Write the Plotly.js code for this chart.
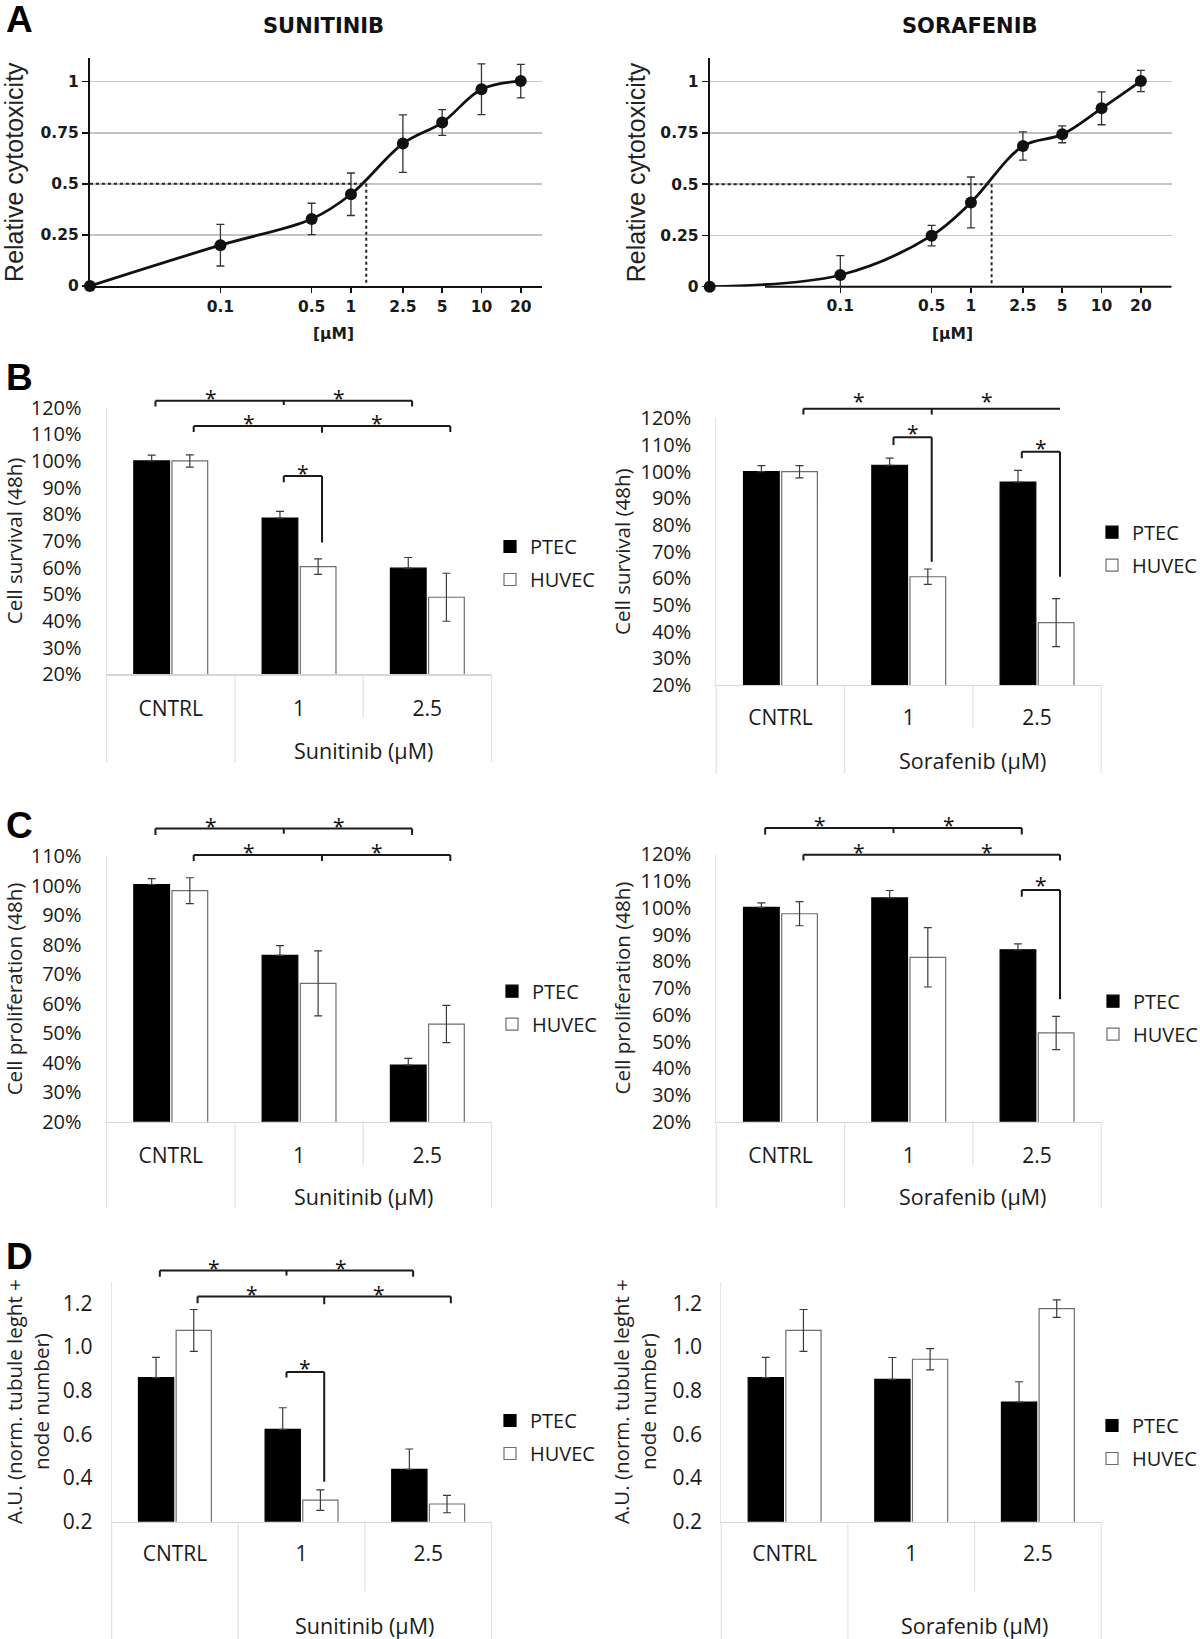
<!DOCTYPE html>
<html>
<head>
<meta charset="utf-8">
<script src="https://cdn.plot.ly/plotly-3.0.1.min.js"></script>
<style>html,body{margin:0;padding:0;background:#fff}#chart{width:1200px;height:1639px}</style>
</head>
<body>
<div id="chart"></div>
<script>
// ================= DATA =================
// Panel A: relative cytotoxicity vs concentration (µM); 0 µM is drawn at the axis origin
const concentrations = [0, 0.1, 0.5, 1, 2.5, 5, 10, 20];
const concTickLabels = ['0.1', '0.5', '1', '2.5', '5', '10', '20'];
const sunitinibCytotox    = [0, 0.200, 0.328, 0.449, 0.697, 0.800, 0.963, 1.003];
const sunitinibCytotoxErr = [0, 0.102, 0.077, 0.104, 0.141, 0.063, 0.124, 0.082];
const sorafenibCytotox    = [0, 0.057, 0.249, 0.411, 0.686, 0.743, 0.870, 1.003];
const sorafenibCytotoxErr = [0, 0.095, 0.050, 0.124, 0.069, 0.041, 0.080, 0.052];
const ic50Sunitinib = 1.31;
const ic50Sorafenib = 1.44;

// Panels B-D: groups
const groups = ['CNTRL', '1', '2.5'];
const seriesNames = ['PTEC', 'HUVEC'];

// B: cell survival (48h), %
const survSunPTEC  = [100, 78.6, 59.8];  const survSunPTECErr  = [2.2, 2.5, 4.0];
const survSunHUVEC = [100, 60.4, 48.9];  const survSunHUVECErr = [2.3, 2.9, 9.0];
const survSorPTEC  = [100, 102.4, 96.1]; const survSorPTECErr  = [2.3, 2.7, 4.4];
const survSorHUVEC = [100, 60.6, 43.4];  const survSorHUVECErr = [2.3, 2.9, 9.0];

// C: cell proliferation (48h), %
const prolSunPTEC  = [100.4, 76.4, 39.2]; const prolSunPTECErr  = [2.0, 3.3, 2.3];
const prolSunHUVEC = [98.3, 66.9, 53.1];  const prolSunHUVECErr = [4.4, 11.0, 6.3];
const prolSorPTEC  = [100.2, 103.7, 84.3]; const prolSorPTECErr  = [1.7, 2.8, 2.2];
const prolSorHUVEC = [97.8, 81.5, 53.2];  const prolSorHUVECErr = [4.5, 11.1, 6.2];

// D: tubule formation, A.U.
const tubeSunPTEC  = [0.860, 0.623, 0.440]; const tubeSunPTECErr  = [0.093, 0.099, 0.093];
const tubeSunHUVEC = [1.076, 0.299, 0.281]; const tubeSunHUVECErr = [0.096, 0.047, 0.040];
const tubeSorPTEC  = [0.860, 0.852, 0.748]; const tubeSorPTECErr  = [0.093, 0.100, 0.093];
const tubeSorHUVEC = [1.076, 0.944, 1.176]; const tubeSorHUVECErr = [0.096, 0.049, 0.040];

// Significance brackets: anchors [groupIndex, seriesIndex], bracket level, leg ends, star level (data units)
const sigSurvSun = [
  {pts: [[0,0],[1,0],[2,0]], y: 122.6, ends: [120.4, 120.4], mid: 121.0, starY: 125.6},
  {pts: [[0,1],[1,1],[2,1]], y: 113.1, ends: [110.9, 110.9], mid: 110.6, starY: 116.0},
  {pts: [[1,0],[1,1]], y: 94.4, ends: [92.0, 69.4], starY: 97.3}
];
const sigSurvSor = [
  {pts: [[0,1],[1,1],[2,1]], y: 123.6, ends: [121.4, 123.6], mid: 121.4, starY: 128.2},
  {pts: [[1,0],[1,1]], y: 112.9, ends: [110.0, 66.2], starY: 116.2},
  {pts: [[2,0],[2,1]], y: 107.5, ends: [105.0, 60.6], starY: 110.9}
];
const sigProlSun = [
  {pts: [[0,0],[1,0],[2,0]], y: 119.4, ends: [117.2, 117.2], mid: 117.6, starY: 122.0},
  {pts: [[0,1],[1,1],[2,1]], y: 110.4, ends: [108.4, 108.4], mid: 108.4, starY: 113.2}
];
const sigProlSor = [
  {pts: [[0,0],[1,0],[2,0]], y: 129.9, ends: [127.4, 127.4], mid: 128.0, starY: 132.8},
  {pts: [[0,1],[1,1],[2,1]], y: 119.9, ends: [117.7, 117.7], starY: 122.9},
  {pts: [[2,0],[2,1]], y: 106.7, ends: [104.2, 65.8], starY: 110.4}
];
const sigTubeSun = [
  {pts: [[0,0],[1,0],[2,0]], y: 1.351, ends: [1.322, 1.322], mid: 1.328, starY: 1.386},
  {pts: [[0,1],[1,1],[2,1]], y: 1.231, ends: [1.200, 1.200], mid: 1.196, starY: 1.266},
  {pts: [[1,0],[1,1]], y: 0.886, ends: [0.860, 0.383], starY: 0.928}
];
const sigTubeSor = [];

// ================= LAYOUT HELPERS =================
const W = 1200, H = 1639;
const px = x => x / W;
const py = y => 1 - y / H;
const zeroPos = 0.01; // log-axis origin where the 0 µM point sits

const FONT_XL = 'Open Sans, sans-serif';
const FONT_A  = 'DejaVu Sans, sans-serif';
const TXT = '#1a1a1a';

const data = [];
const shapes = [];
const annotations = [];
const layout = {
  width: W, height: H,
  margin: {l: 0, r: 0, t: 0, b: 0, autoexpand: false},
  paper_bgcolor: '#fff', plot_bgcolor: 'rgba(0,0,0,0)',
  showlegend: true,
  barmode: 'group', bargap: 0.405, bargroupgap: 0.065,
  font: {family: FONT_XL, color: TXT},
  shapes, annotations
};

// ---------- Panel A (dose-response curves) ----------
const panelsA = [
  {ax: '', title: 'SUNITINIB', y: sunitinibCytotox, err: sunitinibCytotoxErr, ic50: ic50Sunitinib,
   xl: 89.9, xr: 541.9, yb: 286, yt: 58.3, logMax: 1.463, yMax: 1.1145, titleX: 323.6, unitX: 333.3,
   standoff: 15, axisStart: null},
  {ax: '2', title: 'SORAFENIB', y: sorafenibCytotox, err: sorafenibCytotoxErr, ic50: ic50Sorafenib,
   xl: 709.7, xr: 1171.7, yb: 286.7, yt: 58.3, logMax: 1.537, yMax: 1.114, titleX: 970.2, unitX: 952.7,
   standoff: 8, axisStart: 0.0265}
];
panelsA.forEach(p => {
  const xa = 'x' + p.ax, ya = 'y' + p.ax;
  const xs = concentrations.map(c => c === 0 ? zeroPos : c);
  data.push({
    type: 'scatter', mode: 'lines+markers', x: xs, y: p.y, xaxis: xa, yaxis: ya,
    showlegend: false, cliponaxis: false, hoverinfo: 'x+y',
    line: {color: '#111', width: 2.8, shape: 'spline', smoothing: 1},
    marker: {color: '#111', size: 12},
    error_y: {type: 'data', symmetric: false, array: p.err,
              arrayminus: p.err.map((e, i) => Math.min(e, p.y[i])),
              color: '#333', thickness: 1.3, width: 4}
  });
  // IC50 guide lines
  data.push({type: 'scatter', mode: 'lines', x: [zeroPos, p.ic50], y: [0.5, 0.5], xaxis: xa, yaxis: ya,
    showlegend: false, hoverinfo: 'skip', line: {color: '#222', width: 2, dash: 'dot'}});
  data.push({type: 'scatter', mode: 'lines', x: [p.ic50, p.ic50], y: [0.5, 0.01], xaxis: xa, yaxis: ya,
    showlegend: false, hoverinfo: 'skip', line: {color: '#222', width: 2, dash: 'dot'}});

  layout['xaxis' + p.ax] = {
    type: 'log', domain: [px(p.xl), px(p.xr)], anchor: ya,
    range: [Math.log10(zeroPos), p.logMax],
    tickvals: concentrations.slice(1), ticktext: concTickLabels,
    ticks: 'outside', ticklen: 5, tickwidth: 1.5, tickcolor: '#111',
    showline: p.axisStart === null, linecolor: '#111', linewidth: 2,
    showgrid: false, zeroline: false,
    tickfont: {family: FONT_A, size: 15.5, weight: 'bold', color: TXT}
  };
  layout['yaxis' + p.ax] = {
    domain: [py(p.yb), py(p.yt)], anchor: xa, range: [0, p.yMax],
    tickvals: [0, 0.25, 0.5, 0.75, 1], ticktext: ['0', '0.25', '0.5', '0.75', '1'],
    ticks: 'outside', ticklen: 6, tickwidth: 1.5, tickcolor: '#111',
    showline: true, linecolor: '#111', linewidth: 2,
    showgrid: true, gridcolor: '#c4c4c4', gridwidth: 1.5, zeroline: false,
    tickfont: {family: FONT_A, size: 15.5, weight: 'bold', color: TXT},
    title: {text: 'Relative cytotoxicity', standoff: p.standoff,
            font: {family: 'Liberation Sans, Arial, sans-serif', size: 25, color: '#222'}}
  };
  if (p.axisStart !== null) {
    shapes.push({type: 'line', xref: xa, yref: ya + ' domain', x0: p.axisStart, x1: Math.pow(10, p.logMax),
      y0: 0, y1: 0, line: {color: '#111', width: 2}});
  }
  annotations.push({xref: 'paper', yref: 'paper', x: px(p.titleX), y: py(25.8), text: p.title,
    showarrow: false, xanchor: 'center', yanchor: 'middle',
    font: {family: FONT_A, size: 21, weight: 'bold', color: '#111'}});
  annotations.push({xref: 'paper', yref: 'paper', x: px(p.unitX), y: py(334), text: '[µM]',
    showarrow: false, xanchor: 'center', yanchor: 'middle',
    font: {family: FONT_A, size: 15.5, weight: 'bold', color: TXT}});
});

// ---------- Panels B-D (grouped bars) ----------
const seriesOffset = [-0.149, 0.149];
const bracketNudge = 0.03;
const bx = (c, s) => c + seriesOffset[s] + bracketNudge;

const panelsBar = [
  {n: 3, legend: 'legend',  drug: 'Sunitinib (µM)', ytitle: 'Cell survival (48h)',
   series: [[survSunPTEC, survSunPTECErr], [survSunHUVEC, survSunHUVECErr]], sig: sigSurvSun,
   xl: 106.6, xr: 491.5, yb: 674.3, range: [20, 120], ppu: 2.6667, dtick: 10, pct: true,
   sepBottom: 762, midSepBottom: 718, drugY: 750, legX: 490, legY: 546, ytl: 20, xtl: 15, tickSize: 20, standoff: 4},
  {n: 4, legend: 'legend2', drug: 'Sorafenib (µM)', ytitle: 'Cell survival (48h)',
   series: [[survSorPTEC, survSorPTECErr], [survSorHUVEC, survSorHUVECErr]], sig: sigSurvSor,
   xl: 716.3, xr: 1101.2, yb: 685, range: [20, 120], ppu: 2.6667, dtick: 10, pct: true,
   sepBottom: 773, midSepBottom: 728, drugY: 760.7, legX: 1092, legY: 531.7, ytl: 20, xtl: 14, tickSize: 20, standoff: 4},
  {n: 5, legend: 'legend3', drug: 'Sunitinib (µM)', ytitle: 'Cell proliferation (48h)',
   series: [[prolSunPTEC, prolSunPTECErr], [prolSunHUVEC, prolSunHUVECErr]], sig: sigProlSun,
   xl: 106.6, xr: 491.5, yb: 1121.7, range: [20, 110], ppu: 2.95, dtick: 10, pct: true,
   sepBottom: 1208, midSepBottom: 1165, drugY: 1196.7, legX: 492, legY: 990.7, ytl: 20, xtl: 15, tickSize: 20, standoff: 4},
  {n: 6, legend: 'legend4', drug: 'Sorafenib (µM)', ytitle: 'Cell proliferation (48h)',
   series: [[prolSorPTEC, prolSorPTECErr], [prolSorHUVEC, prolSorHUVECErr]], sig: sigProlSor,
   xl: 716.3, xr: 1101.2, yb: 1121.7, range: [20, 120], ppu: 2.673, dtick: 10, pct: true,
   sepBottom: 1208, midSepBottom: 1165, drugY: 1196.7, legX: 1093, legY: 1000.7, ytl: 20, xtl: 15, tickSize: 20, standoff: 4},
  {n: 7, legend: 'legend5', drug: 'Sunitinib (µM)', ytitle: 'A.U. (norm. tubule leght +<br>node number)',
   series: [[tubeSunPTEC, tubeSunPTECErr], [tubeSunHUVEC, tubeSunHUVECErr]], sig: sigTubeSun,
   xl: 111.6, xr: 491.5, yb: 1521.7, range: [0.2, 1.3], ppu: 218.33, dtick: 0.2, pct: false,
   sepBottom: 1639, midSepBottom: 1591.7, drugY: 1625, legX: 490, legY: 1420, ytl: 14, xtl: 13, tickSize: 21, standoff: 10},
  {n: 8, legend: 'legend6', drug: 'Sorafenib (µM)', ytitle: 'A.U. (norm. tubule leght +<br>node number)',
   series: [[tubeSorPTEC, tubeSorPTECErr], [tubeSorHUVEC, tubeSorHUVECErr]], sig: sigTubeSor,
   xl: 721.3, xr: 1101.2, yb: 1521.7, range: [0.2, 1.3], ppu: 218.33, dtick: 0.2, pct: false,
   sepBottom: 1639, midSepBottom: 1591.7, drugY: 1625, legX: 1092, legY: 1425, ytl: 14, xtl: 13, tickSize: 21, standoff: 10}
];

const seriesStyle = [
  {fill: '#000000', line: '#000000'},
  {fill: '#ffffff', line: '#6e6e6e'}
];

panelsBar.forEach(p => {
  const xa = 'x' + p.n, ya = 'y' + p.n;
  const yt = p.yb - (p.range[1] - p.range[0]) * p.ppu;
  p.series.forEach(([vals, errs], s) => {
    data.push({
      type: 'bar', name: seriesNames[s], legend: p.legend, legendgroup: p.legend + seriesNames[s],
      x: groups.map((g, i) => i), y: vals, xaxis: xa, yaxis: ya,
      marker: {color: seriesStyle[s].fill, line: {color: seriesStyle[s].line, width: 1.2}},
      error_y: s === 0
        ? {type: 'data', symmetric: false, array: errs, arrayminus: errs.map(() => 0), color: '#3a3a3a', thickness: 1.2, width: 4}
        : {type: 'data', array: errs, color: '#3a3a3a', thickness: 1.2, width: 4},
      hovertemplate: seriesNames[s] + ' %{y}<extra></extra>'
    });
  });
  layout['xaxis' + p.n] = {
    domain: [px(p.xl), px(p.xr)], anchor: ya, range: [-0.5, 2.5],
    tickvals: groups.map((g, i) => i), ticktext: groups,
    ticks: 'outside', ticklen: p.xtl, tickcolor: 'rgba(0,0,0,0)',
    showline: true, linecolor: '#d6d6d6', linewidth: 1.2,
    showgrid: false, zeroline: false,
    tickfont: {family: FONT_XL, size: 21, color: TXT}
  };
  layout['yaxis' + p.n] = {
    domain: [py(p.yb), py(yt)], anchor: xa, range: p.range,
    tick0: p.range[0], dtick: p.dtick,
    ticksuffix: p.pct ? '%' : '', tickformat: p.pct ? 'd' : '.1f',
    ticks: 'outside', ticklen: p.ytl, tickcolor: 'rgba(0,0,0,0)',
    showline: true, linecolor: '#e4e4e4', linewidth: 1,
    showgrid: false, zeroline: false,
    tickfont: {family: FONT_XL, size: p.tickSize, color: TXT},
    title: {text: p.ytitle, standoff: p.standoff, font: {family: FONT_XL, size: 20.5, color: '#222'}}
  };
  layout[p.legend] = {
    x: px(p.legX), y: py(p.legY - 19), xanchor: 'left', yanchor: 'top',
    bgcolor: 'rgba(0,0,0,0)', borderwidth: 0, tracegroupgap: 4,
    font: {family: FONT_XL, size: 20, color: TXT}
  };
  // category-table separators below the axis
  const sepLine = {color: '#e2e2e2', width: 1.2};
  shapes.push({type: 'line', xref: xa + ' domain', yref: 'paper', x0: 0, x1: 0, y0: py(p.yb), y1: py(p.sepBottom), line: sepLine});
  shapes.push({type: 'line', xref: xa + ' domain', yref: 'paper', x0: 1, x1: 1, y0: py(p.yb), y1: py(p.sepBottom), line: sepLine});
  shapes.push({type: 'line', xref: xa, yref: 'paper', x0: 0.5, x1: 0.5, y0: py(p.yb), y1: py(p.sepBottom), line: sepLine});
  shapes.push({type: 'line', xref: xa, yref: 'paper', x0: 1.5, x1: 1.5, y0: py(p.yb), y1: py(p.midSepBottom), line: sepLine});
  annotations.push({xref: xa, yref: 'paper', x: 1.5, y: py(p.drugY), text: p.drug, showarrow: false,
    xanchor: 'center', yanchor: 'middle', font: {family: FONT_XL, size: 21.5, color: TXT}});

  // significance brackets
  const f = v => (v - p.range[0]) / (p.range[1] - p.range[0]);
  const yref = ya + ' domain';
  const bl = {color: '#1a1a1a', width: 2};
  p.sig.forEach(b => {
    const xs = b.pts.map(([c, s]) => bx(c, s));
    const last = xs.length - 1;
    shapes.push({type: 'line', xref: xa, yref, x0: xs[0], x1: xs[last], y0: f(b.y), y1: f(b.y), line: bl});
    shapes.push({type: 'line', xref: xa, yref, x0: xs[0], x1: xs[0], y0: f(b.y), y1: f(b.ends[0]), line: bl});
    if (b.ends[1] !== b.y) {
      shapes.push({type: 'line', xref: xa, yref, x0: xs[last], x1: xs[last], y0: f(b.y), y1: f(b.ends[1]), line: bl});
    }
    if (b.mid !== undefined) {
      xs.slice(1, last).forEach(x => shapes.push({type: 'line', xref: xa, yref, x0: x, x1: x, y0: f(b.y), y1: f(b.mid), line: bl}));
    }
    for (let i = 0; i < last; i++) {
      annotations.push({xref: xa, yref, x: (xs[i] + xs[i + 1]) / 2 + (xs.length > 2 ? -0.07 : 0), y: f(b.starY),
        text: '*', showarrow: false, xanchor: 'center', yanchor: 'middle', yshift: -5,
        font: {family: FONT_XL, size: 21, color: '#111'}});
    }
  });
});

// panel letters
[['A', 19.5], ['B', 377.5], ['C', 825], ['D', 1256.5]].forEach(([t, y]) => {
  annotations.push({xref: 'paper', yref: 'paper', x: px(19), y: py(y), text: t, showarrow: false,
    xanchor: 'center', yanchor: 'middle', font: {family: 'Liberation Sans, Arial, sans-serif', size: 37, weight: 'bold', color: '#000'}});
});

Plotly.newPlot('chart', data, layout, {displayModeBar: false, staticPlot: true});
</script>
</body>
</html>
